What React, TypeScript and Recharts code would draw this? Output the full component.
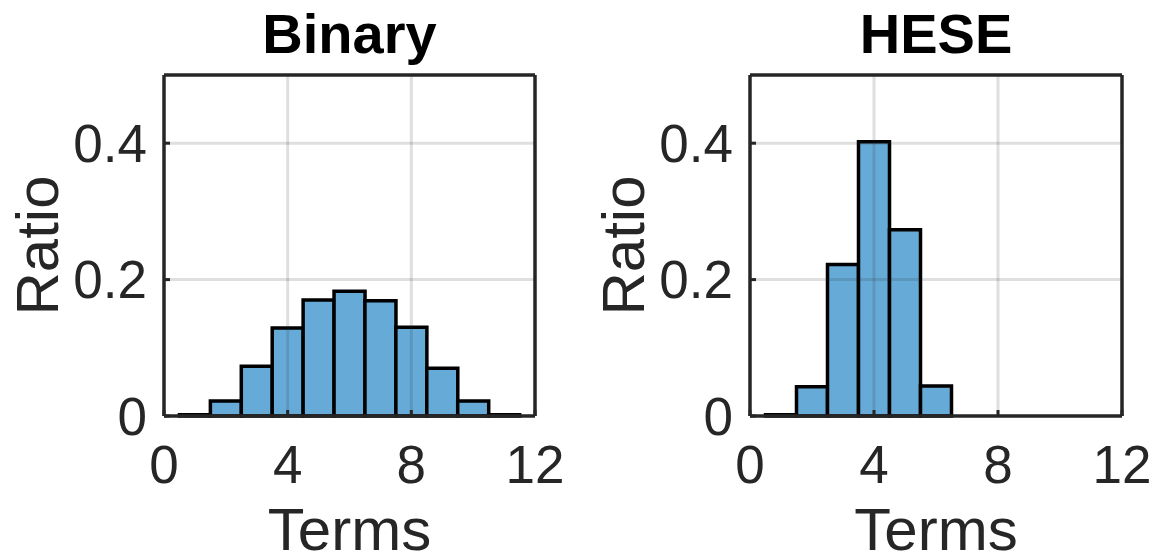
import { Bar, BarChart, Label, ReferenceLine, XAxis, YAxis } from "recharts";

// histogram bins (bin centres, width 1)
const terms = [1, 2, 3, 4, 5, 6, 7, 8, 9, 10, 11];
const binaryRatio = [0.002, 0.022, 0.073, 0.129, 0.17, 0.183, 0.169, 0.13, 0.07, 0.022, 0.002];
const heseRatio = [0.002, 0.043, 0.222, 0.402, 0.273, 0.044, 0, 0, 0, 0, 0];

const termTicks = [0, 4, 8, 12];
const ratioTicks = [0, 0.2, 0.4];

const FONT = '"Liberation Sans", Arial, Helvetica, sans-serif';
const INK = "#262626";
const FACE = "#66AAD7";

const gridStyle = { stroke: INK, strokeOpacity: 0.15, strokeWidth: 3 };

function Panel({ title, values, left, width, yAxisWidth, rightWidth }: {
  title: string;
  values: number[];
  left: number;
  width: number;
  yAxisWidth: number;
  rightWidth: number;
}) {
  const data = terms.map((t, i) => ({ term: t, ratio: values[i] }));

  const renderTitle = (props: any) => {
    const vb = props.viewBox;
    return (
      <text x={vb.x + vb.width / 2} y={53} textAnchor="middle" fontSize={56} fontWeight="bold" fill="#000" fontFamily={FONT}>
        {title}
      </text>
    );
  };
  const renderXLabel = (props: any) => {
    const vb = props.viewBox;
    return (
      <text x={vb.x + vb.width / 2} y={vb.y + 134} textAnchor="middle" fontSize={60} fill={INK} fontFamily={FONT}>
        Terms
      </text>
    );
  };
  const renderYLabel = (props: any) => {
    const vb = props.viewBox;
    const cx = vb.x + vb.width - 106;
    const cy = vb.y + vb.height / 2;
    return (
      <text x={cx} y={cy} transform={`rotate(-90, ${cx}, ${cy})`} textAnchor="middle" fontSize={60} fill={INK} fontFamily={FONT}>
        Ratio
      </text>
    );
  };

  const axisLine = { stroke: INK, strokeWidth: 3.5 };
  const tickLine = { stroke: INK, strokeWidth: 3 };
  const tickFont = { fontSize: 53, fill: INK, fontFamily: FONT };

  return (
    <div style={{ position: "absolute", left, top: 0 }}>
      <BarChart width={width} height={554} data={data} margin={{ top: 0, right: 0, bottom: 0, left: 0 }} barCategoryGap={0} barGap={0}>
        <XAxis
          dataKey="term"
          type="number"
          domain={[0, 12]}
          ticks={termTicks}
          interval={0}
          height={138}
          axisLine={axisLine}
          tickLine={tickLine}
          tickSize={-6}
          tickMargin={35}
          tick={tickFont}
        >
          <Label content={renderXLabel} />
        </XAxis>
        <XAxis
          xAxisId="top"
          orientation="top"
          dataKey="term"
          type="number"
          domain={[0, 12]}
          ticks={termTicks}
          interval={0}
          height={75}
          axisLine={axisLine}
          tickLine={tickLine}
          tickSize={-6}
          tick={false}
        >
          <Label content={renderTitle} />
        </XAxis>
        <YAxis
          type="number"
          domain={[0, 0.5]}
          ticks={ratioTicks}
          interval={0}
          width={yAxisWidth}
          axisLine={axisLine}
          tickLine={tickLine}
          tickSize={-6}
          tickMargin={23}
          tick={tickFont}
        >
          <Label content={renderYLabel} />
        </YAxis>
        <YAxis
          yAxisId="right"
          orientation="right"
          type="number"
          domain={[0, 0.5]}
          ticks={ratioTicks}
          interval={0}
          width={rightWidth}
          axisLine={axisLine}
          tickLine={tickLine}
          tickSize={-6}
          tick={false}
        />
        <Bar dataKey="ratio" fill={FACE} stroke="#000" strokeWidth={3.5} isAnimationActive={false} />
        {termTicks.slice(1, -1).map((t) => (
          <ReferenceLine key={`x${t}`} x={t} {...gridStyle} />
        ))}
        {ratioTicks.slice(1).map((r) => (
          <ReferenceLine key={`y${r}`} y={r} {...gridStyle} />
        ))}
      </BarChart>
    </div>
  );
}

export default function App() {
  return (
    <div style={{ position: "absolute", left: 0, top: 0, width: 1158, height: 554, background: "#fff" }}>
      <Panel title="Binary" values={binaryRatio} left={0} width={575} yAxisWidth={164} rightWidth={40} />
      <Panel title="HESE" values={heseRatio} left={575} width={583} yAxisWidth={175} rightWidth={36} />
    </div>
  );
}
